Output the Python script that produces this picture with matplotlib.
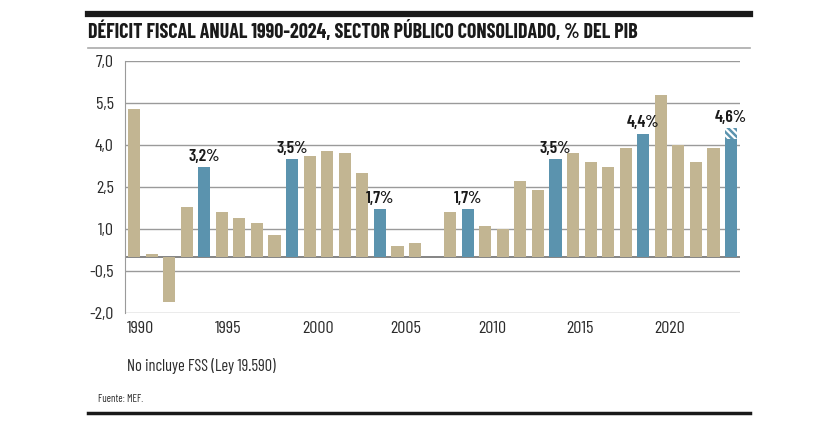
import matplotlib
matplotlib.use("Agg")
import matplotlib.pyplot as plt
import numpy as np

plt.rcParams["font.family"] = ["Barlow Condensed", "DejaVu Sans"]
plt.rcParams["font.stretch"] = "condensed"
plt.rcParams["hatch.linewidth"] = 1.8

# data (% del PIB), 2007 sin dato en el gráfico
years = list(range(1990, 2025))
deficit = [5.3, 0.1, -1.6, 1.8, 3.2, 1.6, 1.4, 1.2, 0.8, 3.5,
           3.6, 3.8, 3.7, 3.0, 1.7, 0.4, 0.5, np.nan, 1.6, 1.7,
           1.1, 1.0, 2.7, 2.4, 3.5, 3.7, 3.4, 3.2, 3.9, 4.4,
           5.8, 4.0, 3.4, 3.9, 4.2]
deficit_2024_extra = 0.4  # parte rayada (proyección)
highlight_years = [1994, 1999, 2004, 2009, 2014, 2019, 2024]
label_years = [1994, 1999, 2004, 2009, 2014, 2019, 2024]
label_texts = ["3,2%", "3,5%", "1,7%", "1,7%", "3,5%", "4,4%", "4,6%"]
yticks = [7.0, 5.5, 4.0, 2.5, 1.0, -0.5, -2.0]
xtick_years = [1990, 1995, 2000, 2005, 2010, 2015, 2020]

TAN = "#c2b592"
BLUE = "#5b93ae"
GRID = "#9a9a9a"
TXT = "#2b2b2b"

fig = plt.figure(figsize=(8.33, 4.30), dpi=100)
ax = fig.add_axes([0.150, 0.272, 0.738, 0.586])

colors = [BLUE if y in highlight_years else TAN for y in years]
ax.bar(years, deficit, width=0.69, color=colors, zorder=3)
ax.bar([2024], [deficit_2024_extra], bottom=[deficit[-1]], width=0.69,
       color="white", edgecolor=BLUE, hatch="\\\\\\\\\\", linewidth=0, zorder=3)

for yr, txt in zip(label_years, label_texts):
    i = years.index(yr)
    top = deficit[i] + (deficit_2024_extra if yr == 2024 else 0)
    ax.text(yr, top + 0.12, txt, ha="center", va="bottom", fontsize=12.5,
            fontweight=600, color="#1a1a1a", zorder=4)

ax.set_xlim(1989.48, 2024.49)
ax.set_ylim(-2.0, 7.0)
ax.set_yticks(yticks)
ax.set_yticklabels([f"{v:.1f}".replace(".", ",") for v in yticks], fontsize=13, color=TXT)
for v in yticks:
    ax.axhline(v, color=GRID, lw=1.0, zorder=1)
ax.axhline(0, color="#707070", lw=1.2, zorder=2)

ax.set_xticks([])
for yr in xtick_years:
    ax.text(yr - 0.4, -2.55, str(yr), ha="left", va="center", fontsize=13,
            color=TXT, clip_on=False)

for s in ["top", "right", "bottom"]:
    ax.spines[s].set_visible(False)
ax.spines["left"].set_color(GRID)
ax.tick_params(axis="y", length=0, pad=8)

# marco: barras y textos de la figura
fig.add_artist(plt.Line2D([88 / 833, 750 / 833], [1 - 13.5 / 430] * 2, color="#1a1a1a", lw=4.5))
fig.add_artist(plt.Line2D([88 / 833, 750 / 833], [1 - 48 / 430] * 2, color="#aaaaaa", lw=1.2))
fig.add_artist(plt.Line2D([88 / 833, 750 / 833], [1 - 413 / 430] * 2, color="#1a1a1a", lw=2.5))
fig.text(88 / 833, 1 - 31 / 430, "DÉFICIT FISCAL ANUAL 1990-2024, SECTOR PÚBLICO CONSOLIDADO, % DEL PIB",
         ha="left", va="center", fontsize=14.4, fontweight="bold", color="#1a1a1a")
fig.text(127 / 833, 1 - 366 / 430, "No incluye FSS (Ley 19.590)", ha="left", va="center",
         fontsize=11.8, color=TXT)
fig.text(98 / 833, 1 - 399 / 430, "Fuente: MEF.", ha="left", va="center",
         fontsize=7.6, color=TXT)

fig.savefig("out.png", dpi=100)
